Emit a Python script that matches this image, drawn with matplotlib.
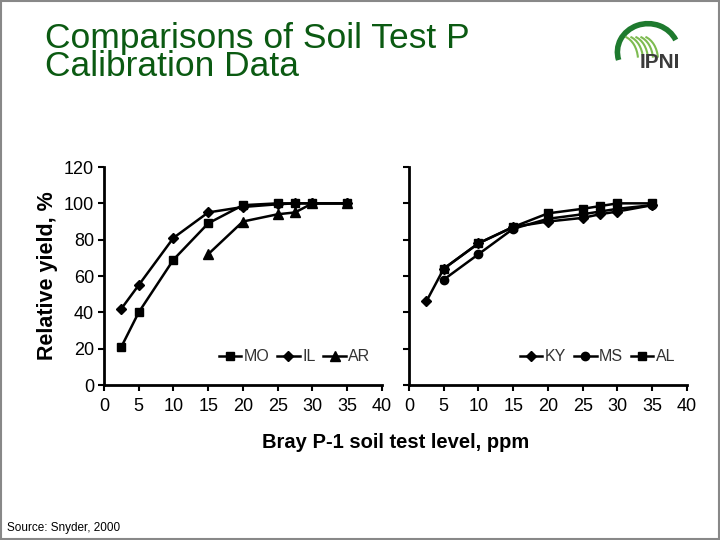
import matplotlib.pyplot as plt
from matplotlib.patches import Arc, Rectangle

plt.rcParams['font.family'] = ['Liberation Sans', 'DejaVu Sans']

# left panel
mo_x = [2.5, 5, 10, 15, 20, 25, 27.5, 30, 35]
mo_y = [21, 40, 69, 89, 99, 100, 100, 100, 100]
il_x = [2.5, 5, 10, 15, 20, 25, 27.5, 30, 35]
il_y = [42, 55, 81, 95, 98, 99.5, 100, 100, 100]
ar_x = [15, 20, 25, 27.5, 30, 35]
ar_y = [72, 90, 94, 95, 100, 100]

# right panel
ky_x = [2.5, 5, 10, 15, 20, 25, 27.5, 30, 35]
ky_y = [46, 64, 78, 87, 90, 92, 94, 95.5, 99]
ms_x = [5, 10, 15, 20, 25, 27.5, 30, 35]
ms_y = [58, 72, 86, 91.5, 94, 95.5, 97, 99]
al_x = [5, 10, 15, 20, 25, 27.5, 30, 35]
al_y = [64, 78, 87, 94.5, 97, 98.5, 100, 100]

xticks = [0, 5, 10, 15, 20, 25, 30, 35, 40]
yticks = [0, 20, 40, 60, 80, 100, 120]

fig = plt.figure(figsize=(7.2, 5.4), dpi=100)

ax1 = fig.add_axes([0.1444, 0.287, 0.386, 0.4037])
ax2 = fig.add_axes([0.568, 0.287, 0.386, 0.4037])

style = dict(color='black', lw=1.8)
ax1.plot(mo_x, mo_y, marker='s', ms=6, label='MO', **style)
ax1.plot(il_x, il_y, marker='D', ms=5, label='IL', **style)
ax1.plot(ar_x, ar_y, marker='^', ms=7, label='AR', **style)

ax2.plot(ky_x, ky_y, marker='D', ms=5, label='KY', **style)
ax2.plot(ms_x, ms_y, marker='o', ms=6, label='MS', **style)
ax2.plot(al_x, al_y, marker='s', ms=6, label='AL', **style)

for ax in (ax1, ax2):
    ax.set_xlim(0, 40)
    ax.set_ylim(0, 120)
    ax.set_xticks(xticks)
    ax.set_yticks(yticks)
    ax.spines['top'].set_visible(False)
    ax.spines['right'].set_visible(False)
    ax.spines['left'].set_linewidth(2)
    ax.spines['bottom'].set_linewidth(2)
    ax.tick_params(direction='out', length=4, width=1.5, labelsize=13, pad=3)
    ax.tick_params(axis='x', pad=5)
    ax.legend(loc='lower right', bbox_to_anchor=(1.01, 0.03), ncol=3, frameon=False,
              fontsize=11.5, handlelength=1.4, handletextpad=0.15, columnspacing=0.5,
              labelcolor='#333333')

ax2.tick_params(axis='y', labelleft=False)

ax1.set_ylabel('Relative yield, %', fontsize=15.5, fontweight='bold', labelpad=4)
fig.text(0.55, 0.18, 'Bray P-1 soil test level, ppm', fontsize=14.5, fontweight='bold',
         ha='center', va='center')

fig.text(0.062, 0.96, 'Comparisons of Soil Test P\nCalibration Data', fontsize=25.5,
         color='#0b5a12', ha='left', va='top', linespacing=0.82)

fig.text(0.01, 0.022, 'Source: Snyder, 2000', fontsize=8.5, ha='left', va='center')

# simple IPNI logo
fig.add_artist(Arc((648 / 720, 1 - 52 / 540), 0.085, 0.105, theta1=30, theta2=200,
                   color='#1e7a2e', lw=4, transform=fig.transFigure))
for i in range(5):
    fig.add_artist(Arc(((620 + i * 5) / 720, 1 - 60 / 540), 0.05, 0.09, theta1=10,
                       theta2=80, color='#7dbb50', lw=1.5, transform=fig.transFigure))
fig.text(660 / 720, 1 - 63 / 540, 'IPNI', fontsize=15, fontweight='bold', color='#3a3a3a',
         ha='center', va='center')

fig.add_artist(Rectangle((0.001, 0.002), 0.998, 0.996, fill=False, ec='#888888', lw=1.5,
                         transform=fig.transFigure))

fig.savefig('out.png', dpi=100)
